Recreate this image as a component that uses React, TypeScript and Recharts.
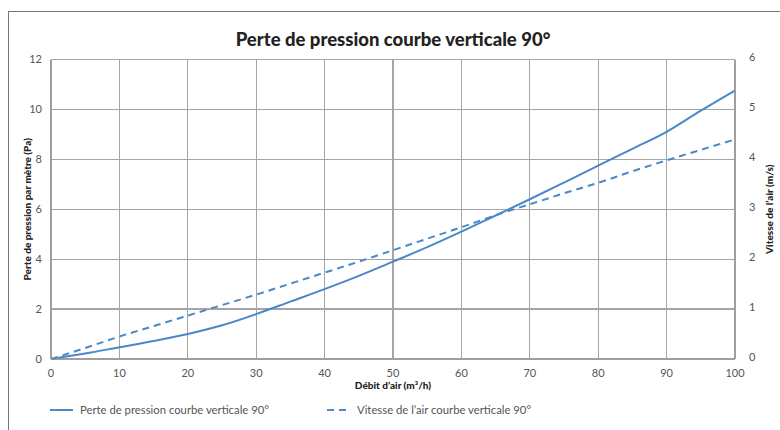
import React from 'react';
import { LineChart, Line, XAxis, YAxis, CartesianGrid, Legend, Label } from 'recharts';

// Values
const debit = [0, 5, 10, 15, 20, 25, 30, 35, 40, 45, 50, 55, 60, 65, 70, 75, 80, 85, 90, 95, 100];
const pression = [0, 0.22, 0.47, 0.72, 1.0, 1.35, 1.8, 2.3, 2.8, 3.33, 3.9, 4.48, 5.1, 5.75, 6.4, 7.07, 7.75, 8.42, 9.1, 9.95, 10.76];
const vitesse = [0, 0.22, 0.45, 0.66, 0.87, 1.08, 1.29, 1.51, 1.73, 1.95, 2.18, 2.41, 2.64, 2.88, 3.1, 3.32, 3.53, 3.76, 3.98, 4.19, 4.4];

const xTicks = [0, 10, 20, 30, 40, 50, 60, 70, 80, 90, 100];
const leftTicks = [0, 2, 4, 6, 8, 10, 12];
const rightTicks = [0, 1, 2, 3, 4, 5, 6];

const TITLE = 'Perte de pression courbe verticale 90°';
const X_LABEL = 'Débit d’air (m³/h)';
const LEFT_LABEL = 'Perte de pression par mètre (Pa)';
const RIGHT_LABEL = 'Vitesse de l’air (m/s)';
const SERIES_PRESSION = 'Perte de pression courbe verticale 90°';
const SERIES_VITESSE = 'Vitesse de l’air courbe verticale 90°';

const BLUE = '#4a88c8';
const GRID = '#a5a5a5';
const FONT = 'Lato, "Open Sans", sans-serif';

const data = debit.map((d, i) => ({ debit: d, pression: pression[i], vitesse: vitesse[i] }));

const tickStyle = { fill: '#555', fontSize: 11, fontFamily: FONT };

const LegendContent = () => (
    <div style={{ position: 'relative', width: 780, height: 20, fontFamily: FONT, fontSize: 11.3, color: '#555' }}>
        <svg width={30} height={20} style={{ position: 'absolute', left: 50, top: 0 }}>
            <line x1={0} y1={10} x2={23} y2={10} stroke={BLUE} strokeWidth={2} />
        </svg>
        <span style={{ position: 'absolute', left: 80, top: 3 }}>{SERIES_PRESSION}</span>
        <svg width={30} height={20} style={{ position: 'absolute', left: 327, top: 0 }}>
            <line x1={0} y1={10} x2={23} y2={10} stroke={BLUE} strokeWidth={2} strokeDasharray="7 5" />
        </svg>
        <span style={{ position: 'absolute', left: 357, top: 3 }}>{SERIES_VITESSE}</span>
    </div>
);

const App: React.FC = () => {
    return (
        <div style={{ position: 'absolute', left: 0, top: 0, width: 780, height: 430, background: '#fff' }}>
            <div
                style={{
                    position: 'absolute',
                    left: 8,
                    top: 11,
                    width: 772,
                    height: 419,
                    borderTop: '1px solid #777',
                    borderLeft: '1px solid #777',
                }}
            />
            <div
                style={{
                    position: 'absolute',
                    left: 0,
                    top: 28,
                    width: 786,
                    textAlign: 'center',
                    fontFamily: FONT,
                    fontWeight: 900,
                    fontSize: 18.5,
                    color: '#222',
                }}
            >
                {TITLE}
            </div>
            <LineChart width={780} height={430} data={data} margin={{ top: 59.5, right: 0, left: 0, bottom: 0 }}>
                <CartesianGrid stroke={GRID} strokeWidth={1.2} shapeRendering="crispEdges" />
                <XAxis
                    dataKey="debit"
                    type="number"
                    domain={[0, 100]}
                    ticks={xTicks}
                    height={71}
                    stroke="#999"
                    tick={tickStyle}
                    tickLine={false}
                    tickMargin={4}
                    interval={0}
                >
                    <Label
                        content={({ viewBox }: any) => (
                            <text
                                x={393}
                                y={viewBox.y + 30}
                                textAnchor="middle"
                                fontFamily={FONT}
                                fontWeight={900}
                                fontSize={10}
                                fill="#222"
                            >
                                {X_LABEL}
                            </text>
                        )}
                    />
                </XAxis>
                <YAxis
                    domain={[0, 12]}
                    ticks={leftTicks}
                    width={51}
                    stroke="#999"
                    tick={tickStyle}
                    tickLine={false}
                    tickMargin={3}
                    interval={0}
                >
                    <Label
                        content={({ viewBox }: any) => {
                            const cx = 31;
                            const cy = viewBox.y + viewBox.height / 2;
                            return (
                                <text
                                    x={cx}
                                    y={cy}
                                    textAnchor="middle"
                                    transform={`rotate(-90 ${cx} ${cy})`}
                                    fontFamily={FONT}
                                    fontWeight={900}
                                    fontSize={10}
                                    fill="#222"
                                >
                                    {LEFT_LABEL}
                                </text>
                            );
                        }}
                    />
                </YAxis>
                <YAxis
                    yAxisId="right"
                    orientation="right"
                    domain={[0, 6]}
                    ticks={rightTicks}
                    width={45}
                    stroke="#999"
                    tick={{ ...tickStyle, dy: -2 }}
                    tickLine={false}
                    tickMargin={8}
                    interval={0}
                >
                    <Label
                        content={({ viewBox }: any) => {
                            const cx = 773;
                            const cy = viewBox.y + viewBox.height / 2;
                            return (
                                <text
                                    x={cx}
                                    y={cy}
                                    textAnchor="middle"
                                    transform={`rotate(-90 ${cx} ${cy})`}
                                    fontFamily={FONT}
                                    fontWeight={900}
                                    fontSize={10}
                                    fill="#222"
                                >
                                    {RIGHT_LABEL}
                                </text>
                            );
                        }}
                    />
                </YAxis>
                <Legend
                    verticalAlign="middle"
                    align="center"
                    layout="horizontal"
                    content={<LegendContent />}
                    wrapperStyle={{ top: 400, left: 0, width: 780 }}
                />
                <Line
                    type="monotone"
                    dataKey="pression"
                    name={SERIES_PRESSION}
                    stroke={BLUE}
                    strokeWidth={2}
                    dot={false}
                    isAnimationActive={false}
                />
                <Line
                    yAxisId="right"
                    type="monotone"
                    dataKey="vitesse"
                    name={SERIES_VITESSE}
                    stroke={BLUE}
                    strokeWidth={2}
                    strokeDasharray="7 5"
                    dot={false}
                    isAnimationActive={false}
                />
            </LineChart>
        </div>
    );
};

export default App;
